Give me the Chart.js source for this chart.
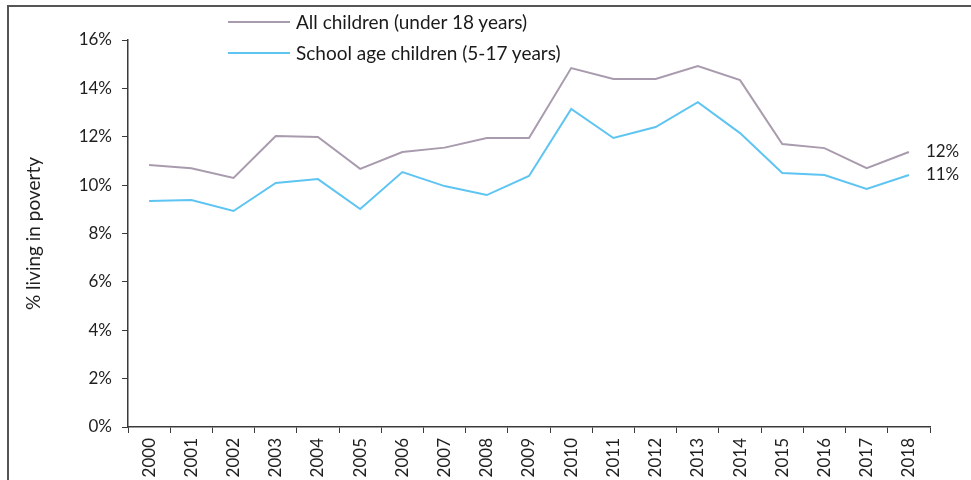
<!DOCTYPE html>
<html>
<head>
<meta charset="utf-8">
<script src="https://cdn.jsdelivr.net/npm/chart.js@4"></script>
<style>
  html, body { margin: 0; padding: 0; background: #fff; overflow: hidden; }
  #wrap { position: relative; width: 971px; height: 480px; overflow: hidden; }
  #frame { position: absolute; left: 7px; top: 5px; width: 980px; height: 490px;
           border-left: 2px solid #555; border-top: 2px solid #555; }
  #box { position: absolute; left: 0; top: 0; width: 971px; height: 492px; }
  .legend { position: absolute; left: 228px; font-family: "Liberation Sans Narrow", "Lato", sans-serif;
            font-size: 19px; color: #1a1a1a; display: flex; align-items: center; }
  .legend i { display: inline-block; width: 62px; height: 2px; margin-right: 6px; }
</style>
</head>
<body>
<div id="wrap">
  <div id="frame"></div>
  <div id="box"><canvas id="povertyChart"></canvas></div>
  <div class="legend" style="top:10px"><i style="background:#a99bae"></i>All children (under 18 years)</div>
  <div class="legend" style="top:41px"><i style="background:#5ec4f2"></i>School age children (5-17 years)</div>
</div>
<script>
const years = ["2000", "2001", "2002", "2003", "2004", "2005", "2006", "2007", "2008", "2009",
  "2010", "2011", "2012", "2013", "2014", "2015", "2016", "2017", "2018"];
const allChildren = [10.83, 10.7, 10.3, 12.03, 11.99, 10.67, 11.37, 11.55, 11.95, 11.95,
  14.84, 14.39, 14.39, 14.92, 14.34, 11.7, 11.53, 10.7, 11.37];
const schoolAge = [9.34, 9.38, 8.93, 10.09, 10.25, 9.01, 10.54, 9.96, 9.59, 10.38,
  13.15, 11.95, 12.4, 13.43, 12.15, 10.5, 10.42, 9.84, 10.42];
const endLabels = ["12%", "11%"];

const FONT = "Lato, 'Liberation Sans', sans-serif";
const INK = "#1f1f1f";
const AXIS = "#3a3a3a";

// labels the last point of each line, just past the plot
const endLabelPlugin = {
  id: "endLabels",
  afterDatasetsDraw(chart) {
    const ctx = chart.ctx;
    ctx.save();
    ctx.font = "17px " + FONT;
    ctx.fillStyle = INK;
    ctx.textBaseline = "middle";
    ctx.textAlign = "left";
    chart.data.datasets.forEach((ds, i) => {
      const meta = chart.getDatasetMeta(i);
      const last = meta.data[meta.data.length - 1];
      ctx.fillText(endLabels[i], last.x + 17, last.y);
    });
    ctx.restore();
  },
};

const ctx = document.getElementById("povertyChart").getContext("2d");
new Chart(ctx, {
  type: "line",
  data: {
    labels: years,
    datasets: [
      {
        label: "All children (under 18 years)",
        data: allChildren,
        borderColor: "#a99bae",
        borderWidth: 2,
        pointRadius: 0,
        tension: 0,
      },
      {
        label: "School age children (5-17 years)",
        data: schoolAge,
        borderColor: "#5ec4f2",
        borderWidth: 2,
        pointRadius: 0,
        tension: 0,
      },
    ],
  },
  options: {
    responsive: true,
    maintainAspectRatio: false,
    animation: false,
    layout: { padding: { left: 22, right: 41, top: 40, bottom: 0 } },
    plugins: {
      legend: { display: false },
      tooltip: { enabled: false },
    },
    scales: {
      x: {
        offset: true,
        grid: { offset: true, drawOnChartArea: false, drawTicks: true, tickLength: 6, color: AXIS },
        border: { display: true, color: AXIS, width: 1.5 },
        ticks: { color: INK, font: { family: FONT, size: 17 }, minRotation: 90, maxRotation: 90, padding: 5 },
        afterFit: (s) => { s.height = 65; },
      },
      y: {
        min: 0,
        max: 16,
        ticks: {
          stepSize: 2,
          color: INK,
          padding: 10,
          font: { family: FONT, size: 17 },
          callback: (v) => v + "%",
        },
        grid: { drawOnChartArea: false, drawTicks: true, tickLength: 6, color: AXIS },
        border: { display: true, color: AXIS, width: 1.5 },
        title: {
          display: true,
          text: "% living in poverty",
          color: INK,
          font: { family: FONT, size: 19 },
          padding: { top: 0, bottom: 0 },
        },
        afterFit: (s) => { s.width = 106; },
      },
    },
  },
  plugins: [endLabelPlugin],
});
</script>
</body>
</html>
